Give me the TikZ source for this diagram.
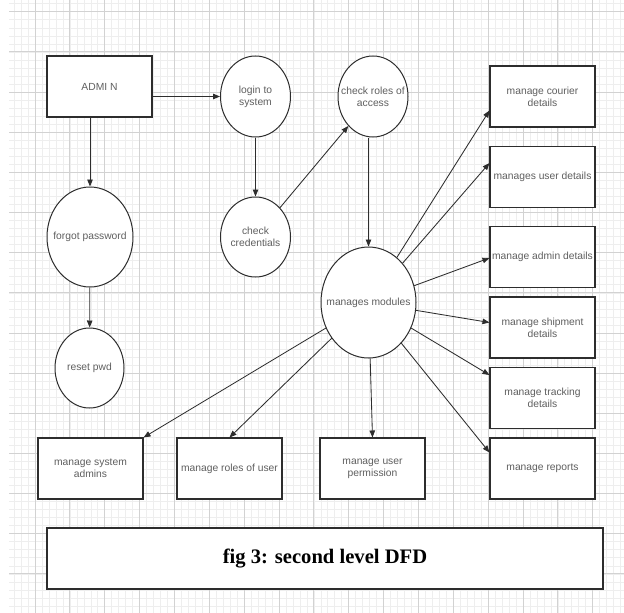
\documentclass[tikz,border=0pt]{standalone}
\usepackage{fontspec}
\setmainfont{Liberation Sans}
\newfontfamily\capfont{Liberation Serif}
\usetikzlibrary{shapes.geometric,arrows.meta,calc}
\definecolor{gridmajor}{RGB}{210,210,210}
\definecolor{gridminor}{RGB}{238,238,238}
\definecolor{ink}{RGB}{45,45,45}
\definecolor{txtc}{RGB}{95,95,95}
\begin{document}
\begin{tikzpicture}[x=1pt,y=-1pt,
  box/.style={draw=ink, line width=1.05pt, fill=white, minimum width=105pt, minimum height=61pt,
    align=center, inner sep=2pt, text=txtc, font=\fontsize{10.3}{12.3}\selectfont},
  proc/.style={ellipse, draw=ink, line width=1pt, fill=white, inner sep=0pt},
  ptxt/.style={align=center, text=txtc, inner sep=0pt, font=\fontsize{10.3}{12.3}\selectfont},
  flow/.style={draw=ink, line width=0.85pt, -{Triangle[length=7pt,width=5.5pt]}},
  capbox/.style={draw=ink, line width=1.2pt, fill=white, minimum width=556pt, minimum height=61pt,
    inner sep=0pt, font=\capfont\bfseries\fontsize{20.6}{24}\selectfont}
]
\fill[white] (0,0) rectangle (624,613);
\useasboundingbox (0,0) rectangle (624,613);
% grid
\begin{scope}
\clip (9,0) rectangle (624,613);
\foreach \i in {-4,...,86} \draw[gridminor, line width=0.5pt] ({35+6.97*\i},0) -- ++(0,613);
\foreach \i in {-2,...,76} \draw[gridminor, line width=0.5pt] (0,{11.7+8.03*\i}) -- ++(624,0);
\foreach \i in {0,...,16} \draw[gridmajor, line width=0.8pt] ({35+34.85*\i},0) -- ++(0,613);
\foreach \i in {0,...,15} \draw[gridmajor, line width=0.8pt] (0,{11.7+40.15*\i}) -- ++(624,0);
\end{scope}
% nodes
\node[box] (admin) at (99.5,86.5) {ADMI N};
\node[proc, minimum width=70pt, minimum height=81pt] (login) at (255.5,96.5) {};
\node[ptxt] (loginT) at (login) {login to\\system};
\node[proc, minimum width=86pt, minimum height=100pt] (forgot) at (90,237) {};
\node[ptxt] (forgotT) at (forgot) {forgot password};
\node[proc, minimum width=69pt, minimum height=80pt] (reset) at (89.5,368) {};
\node[ptxt] (resetT) at (reset) {reset pwd};
\node[proc, minimum width=70pt, minimum height=80pt] (cred) at (255.5,237) {};
\node[ptxt] (credT) at (cred) {check\\credentials};
\node[proc, minimum width=70pt, minimum height=81pt] (roles) at (373,96.5) {};
\node[ptxt] (rolesT) at (roles) {check roles of\\access};
\node[proc, minimum width=95pt, minimum height=111pt] (modules) at (368.5,302.5) {};
\node[ptxt] (modulesT) at (modules) {manages modules};
\node[box] (courier) at (542.5,96.5) {manage courier\\details};
\node[box] (userd) at (542.5,177) {manages user details};
\node[box] (admind) at (542.5,257) {manage admin details};
\node[box] (ship) at (542.5,327.5) {manage shipment\\details};
\node[box] (track) at (542.5,398) {manage tracking\\details};
\node[box] (reports) at (542.5,468.5) {manage reports};
\node[box] (sysad) at (90.5,468.5) {manage system\\admins};
\node[box] (roleu) at (229.5,468.5) {manage roles of user};
\node[box] (perm) at (372.5,468.5) {manage user\\permission};
\node[capbox] (caption) at (325,558.5) {fig 3: second level DFD};
% connectors
\draw[flow] (admin.east |- login) -- (login.west);
\draw[flow] (forgot |- admin.south) -- (forgot.north);
\draw[flow] (login) -- (cred);
\draw[flow] (forgot) -- (reset);
\draw[flow] (cred) -- (roles);
\draw[flow] (modules.north |- roles.south) -- (modules.north);
\draw[flow] (modules) -- ($(courier.west)+(0,14)$);
\draw[flow] (modules) -- ($(userd.west)+(0,-14)$);
\draw[flow] (modules) -- ($(admind.west)+(0,1)$);
\draw[flow] (modules) -- ($(ship.west)+(0,-5)$);
\draw[flow] (modules) -- ($(track.west)+(0,-23)$);
\draw[flow] (modules) -- ($(reports.west)+(0,-16)$);
\draw[flow] (modules) -- (sysad.north east);
\draw[flow] (modules) -- (roleu.north);
\draw[flow] (modules) -- (perm.north);
\end{tikzpicture}
\end{document}
